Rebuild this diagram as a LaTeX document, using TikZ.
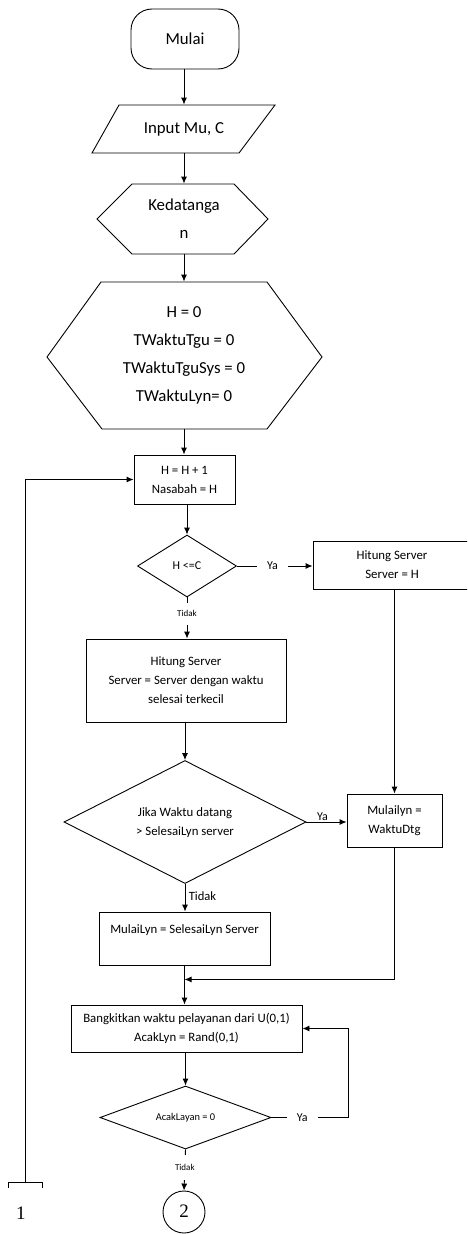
\documentclass[tikz,border=0pt]{standalone}
\usepackage{fontspec}
\setmainfont{Carlito}
\newfontfamily\timesf{Liberation Serif}
\usetikzlibrary{shapes.geometric,arrows.meta,calc}
\begin{document}
\begin{tikzpicture}[x=1pt,y=-1pt,
  line width=0.9pt,
  arr/.style={-{Latex[length=7pt,width=6pt]}},
  bigtxt/.style={font=\fontsize{16.8}{28}\selectfont, align=center},
  midtxt/.style={font=\fontsize{12.8}{19}\selectfont, align=center},
  boxstyle/.style={draw, rectangle, inner sep=0pt, midtxt},
  ghost/.style={rectangle, inner sep=0pt},
  dia/.style={draw, diamond, inner sep=1pt, align=center},
  lbl/.style={fill=white, inner xsep=10pt, inner ysep=2pt, font=\fontsize{12}{14}\selectfont},
  lblv/.style={fill=white, inner xsep=2pt, inner ysep=8pt, font=\fontsize{9}{11}\selectfont},
  numtxt/.style={font=\timesf\fontsize{19}{21}\selectfont}
]
\useasboundingbox (0,0) rectangle (467,1234);
\clip (0,0) rectangle (467,1234);

% terminator
\node[draw, rounded corners=21pt, minimum width=108pt, minimum height=60pt, bigtxt] (start) at (185,39) {Mulai};

% input parallelogram
\draw (119,105) -- (275,105) -- (239,153) -- (92,153) -- cycle;
\node[ghost, bigtxt, minimum width=140pt, minimum height=48pt] (inp) at (184,129) {Input Mu, C};

% Kedatangan hexagon
\draw (97,219) -- (132,184) -- (234,184) -- (268,219) -- (234,254) -- (132,254) -- cycle;
\node[ghost, bigtxt, minimum width=100pt, minimum height=70pt] (ked) at (184,219) {Kedatanga\\n};

% initialisation hexagon
\draw (47,357) -- (101,282) -- (267,282) -- (322,357) -- (267,429) -- (102,429) -- cycle;
\node[ghost, bigtxt, minimum width=160pt, minimum height=147pt] (init) at (184,355.5) {H = 0\\TWaktuTgu = 0\\TWaktuTguSys = 0\\TWaktuLyn= 0};

\node[boxstyle, minimum width=101pt, minimum height=49pt] (b1) at (184.5,479.5) {H = H + 1\\Nasabah = H};

\node[dia, minimum width=99pt, minimum height=62pt, font=\fontsize{12}{14}\selectfont] (d1) at (187,566) {H <=C};

\node[boxstyle, minimum width=158pt, minimum height=48pt] (hs1) at (392,565) {Hitung Server\\Server = H};

\node[boxstyle, minimum width=200pt, minimum height=83pt] (hs2) at (186,680.5) {Hitung Server\\Server = Server dengan waktu\\selesai terkecil};

\node[dia, aspect=2, minimum width=242pt, minimum height=123pt, midtxt] (d2) at (185,822) {\raisebox{5pt}{\begin{tabular}{@{}c@{}}Jika Waktu datang\\> SelesaiLyn server\end{tabular}}};

\node[boxstyle, minimum width=95pt, minimum height=53pt] (ml) at (394.5,820.5) {Mulailyn =\\WaktuDtg};

\node[boxstyle, minimum width=171pt, minimum height=53pt] (mls) at (184.5,938.5) {MulaiLyn = SelesaiLyn Server\\\mbox{}};

\node[boxstyle, minimum width=231pt, minimum height=47pt] (bk) at (186.5,1028.5) {Bangkitkan waktu pelayanan dari U(0,1)\\AcakLyn = Rand(0,1)};

\node[dia, aspect=2.7, minimum width=171pt, minimum height=63pt, font=\fontsize{10.4}{12}\selectfont] (d3) at (185.5,1117.5) {AcakLayan = 0};

\node[draw, circle, minimum size=42pt, inner sep=0pt, numtxt] (c2) at (184,1212) {\raisebox{2pt}{2}};

\node[numtxt] (one) at (21,1213) {1};

% connectors
\draw[arr] (start.south -| inp.north) -- (inp.north);
\draw[arr] (inp.south) -- (ked.north);
\draw[arr] (ked.south) -- (init.north);
\draw[arr] (init.south) -- (init.south |- b1.north);
\draw[arr] (d1.north |- b1.south) -- (d1.north);
\draw[arr] (d1.east) -- node[lbl, pos=0.47] {Ya} (d1.east -| hs1.west);
\draw[arr] (d1.south) -- node[lblv, pos=0.4] {Tidak} (d1.south |- hs2.north);
\draw[arr] (ml.north |- hs1.south) -- (ml.north);
\draw[arr] (hs2.south -| d2.north) -- (d2.north);
\draw[arr] (d2.east) -- node[above, pos=0.4, inner sep=1pt, font=\fontsize{12}{14}\selectfont] {Ya} (d2.east -| ml.west);
\draw[arr] (d2.south) -- node[right, pos=0.45, font=\fontsize{12.6}{14}\selectfont] {Tidak} (d2.south |- mls.north);
\draw[arr] (mls.south) -- (mls.south |- bk.north);
\coordinate (j) at ($(mls.south)+(0,14)$);
\draw[arr] (ml.south) |- (j);
\draw[arr] (bk.south -| d3.north) -- (d3.north);
\coordinate (r3) at ($(d3.east)+(77,0)$);
\draw[arr] (d3.east) -- node[lbl, pos=0.4] {Ya} (r3) |- (bk.east);
\draw[arr] (d3.south) -- node[lblv, pos=0.44, inner ysep=9pt] {Tidak} (c2.north);

% off-page connector 1
\coordinate (c1) at (25,1182);
\draw[arr] (c1) |- (b1.west);
\draw (8,1188) -- (8,1182) -- (42,1182) -- (42,1188);
\end{tikzpicture}
\end{document}
